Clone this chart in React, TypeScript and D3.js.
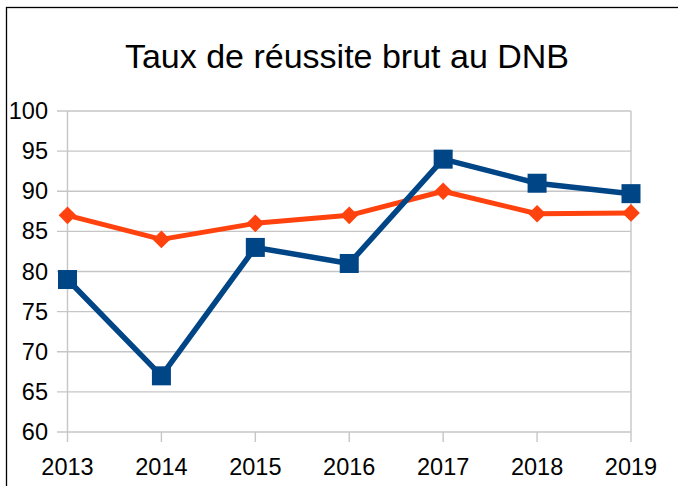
import React, { useEffect, useRef } from 'react';
import * as d3 from 'd3';

const years = ['2013', '2014', '2015', '2016', '2017', '2018', '2019'];
const blueValues = [79, 67, 83, 81, 94, 91, 89.7];
const orangeValues = [87, 84, 86, 87, 90, 87.2, 87.3];
const yTicks = [60, 65, 70, 75, 80, 85, 90, 95, 100];
const title = 'Taux de réussite brut au DNB';

const App = () => {
  const svgRef = useRef<SVGSVGElement>(null);

  useEffect(() => {
    const svg = d3.select(svgRef.current);
    const width = 678;
    const height = 486;
    const font = '"Liberation Sans", Arial, sans-serif';

    // Clear previous content
    svg.selectAll('*').remove();
    svg.attr('width', width).attr('height', height);

    svg.append('rect').attr('width', width).attr('height', height).attr('fill', '#fff');

    // frame (only top and left edges are visible in the crop)
    svg
      .append('rect')
      .attr('x', 6.5)
      .attr('y', 7.5)
      .attr('width', width + 20)
      .attr('height', height + 20)
      .attr('fill', 'none')
      .attr('stroke', '#000')
      .attr('stroke-width', 1.3);

    const xScale = d3.scalePoint().domain(years).range([67.5, 631]);
    const yScale = d3.scaleLinear().domain([60, 100]).range([432, 111]);

    const grid = svg.append('g').attr('stroke', '#c6c6c6').attr('stroke-width', 1.4);
    // horizontal grid + ticks
    yTicks.forEach((t) => {
      grid
        .append('line')
        .attr('x1', 57)
        .attr('x2', 631)
        .attr('y1', yScale(t))
        .attr('y2', yScale(t));
    });
    // plot side borders (first/last category)
    [years[0], years[years.length - 1]].forEach((y) => {
      grid
        .append('line')
        .attr('x1', xScale(y)!)
        .attr('x2', xScale(y)!)
        .attr('y1', yScale(100))
        .attr('y2', yScale(60));
    });
    // x ticks below the axis
    years.forEach((y) => {
      grid
        .append('line')
        .attr('x1', xScale(y)!)
        .attr('x2', xScale(y)!)
        .attr('y1', yScale(60))
        .attr('y2', 442);
    });

    // y labels
    svg
      .append('g')
      .selectAll('text')
      .data(yTicks)
      .join('text')
      .attr('x', 48)
      .attr('y', (d) => yScale(d) + 8)
      .attr('text-anchor', 'end')
      .attr('font-family', font)
      .attr('font-size', 23.5)
      .attr('fill', '#000')
      .text((d) => d);

    // x labels
    svg
      .append('g')
      .selectAll('text')
      .data(years)
      .join('text')
      .attr('x', (d) => xScale(d)!)
      .attr('y', 475)
      .attr('text-anchor', 'middle')
      .attr('font-family', font)
      .attr('font-size', 23.5)
      .attr('fill', '#000')
      .text((d) => d);

    // title
    svg
      .append('text')
      .attr('x', 347)
      .attr('y', 68)
      .attr('text-anchor', 'middle')
      .attr('font-family', font)
      .attr('font-size', 34)
      .attr('fill', '#000')
      .text(title);

    const line = d3
      .line<number>()
      .x((d, i) => xScale(years[i])!)
      .y((d) => yScale(d));

    // orange series with diamonds
    svg
      .append('path')
      .datum(orangeValues)
      .attr('fill', 'none')
      .attr('stroke', '#ff420e')
      .attr('stroke-width', 5)
      .attr('stroke-linejoin', 'round')
      .attr('d', line);

    const diamond = d3.symbol().type(d3.symbolSquare).size(12.5 * 12.5);
    svg
      .append('g')
      .selectAll('path')
      .data(orangeValues)
      .join('path')
      .attr('d', diamond)
      .attr('transform', (d, i) => `translate(${xScale(years[i])},${yScale(d)}) rotate(45)`)
      .attr('fill', '#ff420e');

    // blue series with squares
    svg
      .append('path')
      .datum(blueValues)
      .attr('fill', 'none')
      .attr('stroke', '#004586')
      .attr('stroke-width', 5.5)
      .attr('stroke-linejoin', 'round')
      .attr('d', line);

    svg
      .append('g')
      .selectAll('rect')
      .data(blueValues)
      .join('rect')
      .attr('x', (d, i) => xScale(years[i])! - 9.5)
      .attr('y', (d) => yScale(d) - 9.5)
      .attr('width', 19)
      .attr('height', 19)
      .attr('fill', '#004586');
  }, []);

  return <svg ref={svgRef} style={{ position: 'absolute', left: 0, top: 0, display: 'block' }} />;
};

export default App;
